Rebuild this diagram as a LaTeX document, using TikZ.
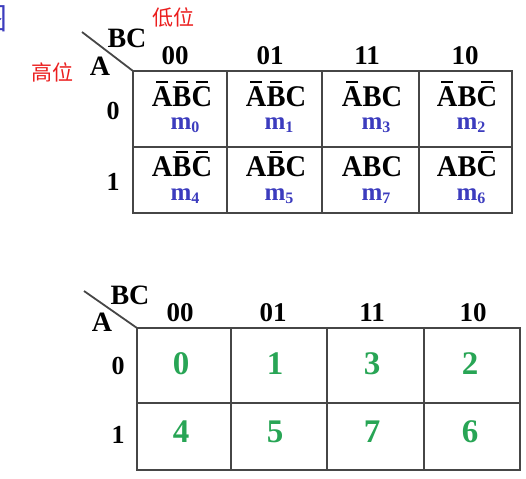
\documentclass[tikz,border=0pt]{standalone}
\usepackage{fontspec}
\setmainfont{Liberation Serif}
\newfontfamily\cjk{Noto Sans CJK SC}
\definecolor{kblue}{RGB}{60,60,190}
\definecolor{kgreen}{RGB}{40,165,85}
\definecolor{kred}{RGB}{235,30,30}
\definecolor{kline}{RGB}{70,70,70}
\newsavebox\obox
\newcommand\ob[1]{\sbox\obox{#1}\rlap{\hspace{0.2\wd\obox}\raisebox{\dimexpr\ht\obox+4.5pt\relax}{\rule{0.6\wd\obox}{1.8pt}}}\usebox\obox}
\newcommand\mm[1]{m\raisebox{-3pt}{\fontsize{16}{16}\selectfont #1}}
\newcommand\tm[1]{\scalebox{0.95}[1]{#1}}
\begin{document}
\begin{tikzpicture}[x=1pt,y=-1pt,
  every node/.style={inner sep=0pt,outer sep=0pt,anchor=center},
  grid/.style={draw=kline,line width=2pt},
  diag/.style={draw=kline,line width=1.8pt},
  varlab/.style={font=\bfseries\fontsize{28}{28}\selectfont},
  hdr/.style={font=\bfseries\fontsize{27}{27}\selectfont},
  rowlab/.style={font=\bfseries\fontsize{26}{26}\selectfont},
  term/.style={font=\bfseries\fontsize{30}{30}\selectfont,anchor=base,text depth=0pt},
  mint/.style={font=\bfseries\fontsize{25}{25}\selectfont,text=kblue,anchor=base,text height=12pt,text depth=4pt},
  num/.style={font=\bfseries\fontsize{33}{33}\selectfont,text=kgreen},
  redlab/.style={font=\cjk\fontsize{21}{21}\selectfont,text=kred}]
\useasboundingbox (0,0) rectangle (526,478);
% partial glyph at the left edge
\node[font=\cjk\fontsize{30}{30}\selectfont,text=kblue] (partial) at (-7,19) {图};
% ---------- top map ----------
\node[redlab] (low) at (173,17) {低位};
\node[redlab] (high) at (52,72) {高位};
\coordinate (t0) at (82,32);
\coordinate (tl) at (133,71);
\draw[diag] (t0) -- (tl);
\node[varlab] (tBC) at (127,38) {BC};
\node[varlab] (tA) at (100,66) {A};
\node[hdr] (th1) at (175,56) {00};
\node[hdr] (th2) at (270,56) {01};
\node[hdr] (th3) at (367,56) {11};
\node[hdr] (th4) at (465,56) {10};
\node[rowlab] (tr0) at (113,111) {0};
\node[rowlab] (tr1) at (113,182) {1};
\draw[grid] (tl) rectangle (512,213);
\draw[grid] (133,147) -- (512,147);
\draw[grid] (227,71) -- (227,213);
\draw[grid] (322,71) -- (322,213);
\draw[grid] (419,71) -- (419,213);
\node[term] (c0) at (182,107) {\tm{\ob{A}\ob{B}\ob{C}}};
\node[term] (c1) at (276,107) {\tm{\ob{A}\ob{B}C}};
\node[term] (c3) at (372,107) {\tm{\ob{A}BC}};
\node[term] (c2) at (467,107) {\tm{\ob{A}B\ob{C}}};
\node[mint] (m0) at (185,130) {\mm{0}};
\node[mint] (m1) at (279,130) {\mm{1}};
\node[mint] (m3) at (376,130) {\mm{3}};
\node[mint] (m2) at (471,130) {\mm{2}};
\node[term] (c4) at (182,177) {\tm{A\ob{B}\ob{C}}};
\node[term] (c5) at (276,177) {\tm{A\ob{B}C}};
\node[term] (c7) at (372,177) {\tm{ABC}};
\node[term] (c6) at (467,177) {\tm{AB\ob{C}}};
\node[mint] (m4) at (185,200) {\mm{4}};
\node[mint] (m5) at (279,200) {\mm{5}};
\node[mint] (m7) at (376,200) {\mm{7}};
\node[mint] (m6) at (471,200) {\mm{6}};
% ---------- bottom map ----------
\coordinate (b0) at (84,291);
\coordinate (bl) at (137,328);
\draw[diag] (b0) -- (bl);
\node[varlab] (bBC) at (130,295) {BC};
\node[varlab] (bA) at (102,322) {A};
\node[hdr] (bh1) at (180,313) {00};
\node[hdr] (bh2) at (273,313) {01};
\node[hdr] (bh3) at (372,313) {11};
\node[hdr] (bh4) at (473,313) {10};
\node[rowlab] (br0) at (118,366) {0};
\node[rowlab] (br1) at (118,435) {1};
\draw[grid] (bl) rectangle (520,470);
\draw[grid] (137,403) -- (520,403);
\draw[grid] (231,328) -- (231,470);
\draw[grid] (327,328) -- (327,470);
\draw[grid] (424,328) -- (424,470);
\node[num] (n0) at (181,364) {0};
\node[num] (n1) at (275,364) {1};
\node[num] (n3) at (372,364) {3};
\node[num] (n2) at (470,364) {2};
\node[num] (n4) at (181,432) {4};
\node[num] (n5) at (275,432) {5};
\node[num] (n7) at (372,432) {7};
\node[num] (n6) at (470,432) {6};
\end{tikzpicture}
\end{document}
